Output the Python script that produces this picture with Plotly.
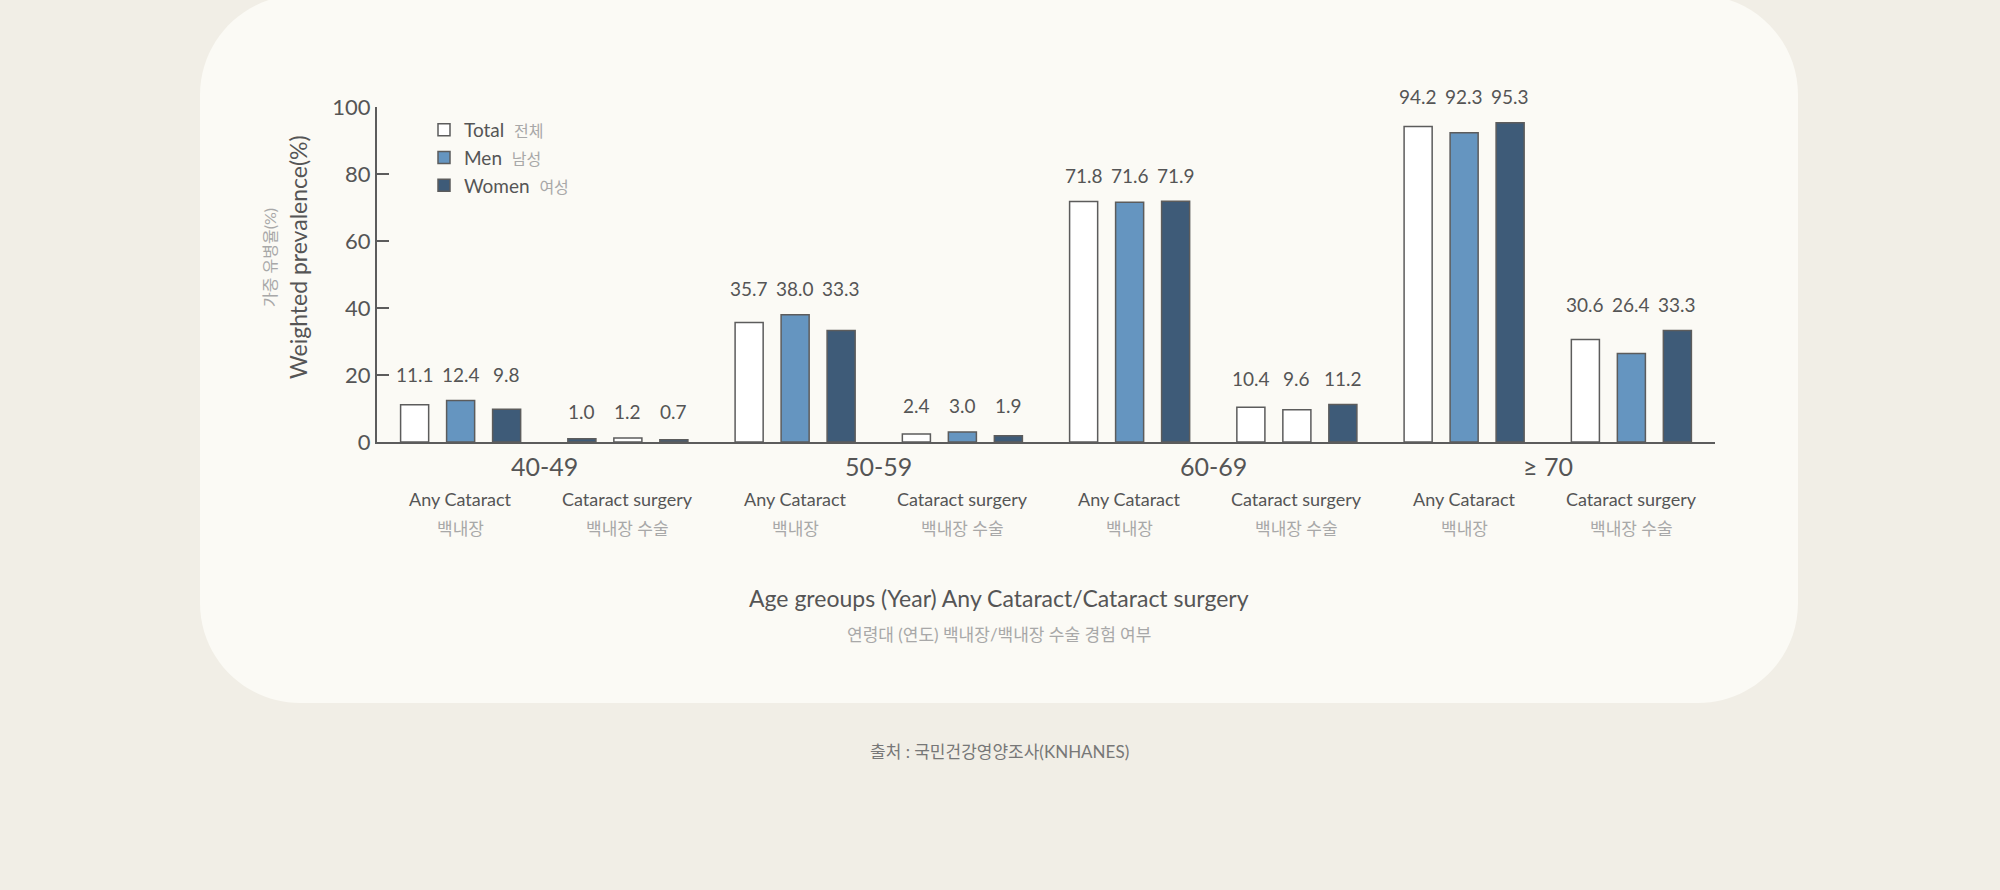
import plotly.graph_objects as go

# Data
categories = ["40-49 any", "40-49 surgery", "50-59 any", "50-59 surgery",
              "60-69 any", "60-69 surgery", "70+ any", "70+ surgery"]
cat_en = ["Any Cataract", "Cataract surgery"] * 4
cat_ko = ["백내장", "백내장 수술"] * 4
age_groups = ["40-49", "50-59", "60-69", "≥ 70"]

total = [11.1, 1.0, 35.7, 2.4, 71.8, 10.4, 94.2, 30.6]
men = [12.4, 1.2, 38.0, 3.0, 71.6, 9.6, 92.3, 26.4]
women = [9.8, 0.7, 33.3, 1.9, 71.9, 11.2, 95.3, 33.3]

WHITE = "#ffffff"
BLUE = "#6595c0"
NAVY = "#3e5b78"
EDGE = "#5c5c5c"
DARK_TXT = "#555555"
LIGHT_TXT = "#a8a8a8"
FONT = "Lato, 'Noto Sans CJK KR', sans-serif"

# colours as they appear in the original picture
total_colors = [WHITE, NAVY, WHITE, WHITE, WHITE, WHITE, WHITE, WHITE]
men_colors = [BLUE, WHITE, BLUE, BLUE, BLUE, WHITE, BLUE, BLUE]
women_colors = [NAVY] * 8

# pixel layout of the plot area
W, H = 2000, 890
L, R, T, B = 377, 1715, 107, 442
BARGAP = 0.175


def px(xp):
    return (xp - L) / (R - L)


def py(yp):
    return (B - yp) / (B - T)


fig = go.Figure()
for name, ko, vals, cols in [("Total", "전체", total, total_colors),
                             ("Men", "남성", men, men_colors),
                             ("Women", "여성", women, women_colors)]:
    fig.add_trace(go.Bar(
        x=categories, y=vals,
        name=f"{name}  <span style='color:{LIGHT_TXT};font-size:16px'>{ko}</span>",
        marker=dict(color=cols, line=dict(color=EDGE, width=1.5)),
        hoverinfo="x+y+name",
    ))

# rounded card behind the chart
cx0, cx1, cy0, cy1, rad = 200, 1798, -5, 703, 100
k = 0.5523 * rad


def P(a, b):
    return f"{px(a):.5f},{py(b):.5f}"


card = (f"M {P(cx0 + rad, cy0)} L {P(cx1 - rad, cy0)} "
        f"C {P(cx1 - rad + k, cy0)} {P(cx1, cy0 + rad - k)} {P(cx1, cy0 + rad)} "
        f"L {P(cx1, cy1 - rad)} "
        f"C {P(cx1, cy1 - rad + k)} {P(cx1 - rad + k, cy1)} {P(cx1 - rad, cy1)} "
        f"L {P(cx0 + rad, cy1)} "
        f"C {P(cx0 + rad - k, cy1)} {P(cx0, cy1 - rad + k)} {P(cx0, cy1 - rad)} "
        f"L {P(cx0, cy0 + rad)} "
        f"C {P(cx0, cy0 + rad - k)} {P(cx0 + rad - k, cy0)} {P(cx0 + rad, cy0)} Z")


def note(x, y, text, size, color, xref="paper", yref="paper", angle=0, **kw):
    d = dict(x=x, xref=xref, y=y, yref=yref, text=text, textangle=angle,
             xanchor="center", yanchor="middle", showarrow=False,
             font=dict(size=size, color=color, family=FONT))
    d.update(kw)
    return d


annotations = []
# value labels: one row per category, placed above the tallest bar of the group
slot = (1 - BARGAP) / 3 * (R - L) / len(categories)
for c, vals in zip(categories, zip(total, men, women)):
    top = max(vals)
    for j, v in enumerate(vals):
        annotations.append(note(c, top, f"{v:.1f}", 19, DARK_TXT, xref="x", yref="y",
                                xshift=(j - 1) * slot, yshift=26))
# category labels
for c, en, ko in zip(categories, cat_en, cat_ko):
    annotations.append(note(c, py(499), en, 18, DARK_TXT, xref="x"))
    annotations.append(note(c, py(528), ko, 17, LIGHT_TXT, xref="x"))
# age groups
for i, g in enumerate(age_groups):
    annotations.append(note(2 * i + 0.5, py(466), g, 25, DARK_TXT, xref="x"))
# axis titles and source
annotations += [
    note(px(298), py(257), "Weighted prevalence(%)", 23, DARK_TXT, angle=-90),
    note(px(269), py(258), "가중 유병율(%)", 16, LIGHT_TXT, angle=-90),
    note(px(999), py(598), "Age greoups (Year) Any Cataract/Cataract surgery", 23, DARK_TXT),
    note(px(999), py(634), "연령대 (연도) 백내장/백내장 수술 경험 여부", 17, LIGHT_TXT),
    note(px(999), py(751), "출처 : 국민건강영양조사(KNHANES)", 17, "#777777"),
]

fig.update_layout(
    width=W, height=H,
    margin=dict(l=L, r=W - R, t=T, b=H - B),
    paper_bgcolor="#f1eee6",
    plot_bgcolor="rgba(0,0,0,0)",
    barmode="group",
    bargap=BARGAP,
    bargroupgap=0.39,
    font=dict(family=FONT, color=DARK_TXT),
    shapes=[dict(type="path", path=card, xref="paper", yref="paper",
                 fillcolor="#fbfaf5", line=dict(width=0), layer="below")],
    annotations=annotations,
    legend=dict(x=px(424), y=py(111), xanchor="left", yanchor="top",
                bgcolor="rgba(0,0,0,0)", font=dict(size=19, color=DARK_TXT, family=FONT),
                itemclick=False),
    xaxis=dict(type="category", range=[-0.5, 7.5], showticklabels=False,
               showline=True, linecolor=EDGE, linewidth=2, ticks="", showgrid=False,
               zeroline=False, fixedrange=True),
    yaxis=dict(range=[0, 100], tickvals=[0, 20, 40, 60, 80, 100], showline=True,
               linecolor=EDGE, linewidth=2, ticks="inside", ticklen=12, tickwidth=1.5,
               tickcolor=EDGE, showgrid=False, zeroline=False,
               tickfont=dict(size=22, color=DARK_TXT, family=FONT), fixedrange=True),
)

fig.write_html("out.html", config={"displayModeBar": False},
               post_script="document.body.style.margin='0';")
